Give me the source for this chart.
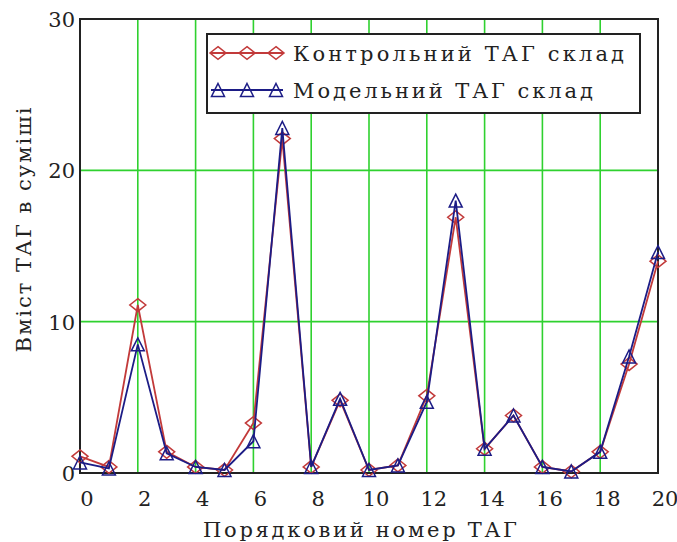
<!DOCTYPE html>
<html>
<head>
<meta charset="utf-8">
<script src="https://cdn.jsdelivr.net/npm/d3@7"></script>
</head>
<body style="margin:0">
<div id="chart"></div>
<script>
const width = 677;
const height = 542;
const serifFont = "'DejaVu Serif'";

// Порядковий номер ТАГ
const tagIndex = [0, 1, 2, 3, 4, 5, 6, 7, 8, 9, 10, 11, 12, 13, 14, 15, 16, 17, 18, 19, 20];
const controlValues = [1.1, 0.4, 11.1, 1.4, 0.4, 0.2, 3.3, 22.1, 0.4, 4.8, 0.2, 0.5, 5.1, 16.9, 1.6, 3.8, 0.4, 0.1, 1.4, 7.2, 14.0];
const modelValues = [0.7, 0.3, 8.5, 1.3, 0.4, 0.2, 2.1, 22.8, 0.4, 4.9, 0.2, 0.5, 4.7, 18.0, 1.6, 3.8, 0.4, 0.1, 1.4, 7.7, 14.6];
const xTicks = [0, 2, 4, 6, 8, 10, 12, 14, 16, 18, 20];
const yTicks = [0, 10, 20, 30];
const seriesNames = ["Контрольний ТАГ склад", "Модельний ТАГ склад"];

const margin = { top: 19, right: 19, bottom: 69, left: 80 };
const red = "#c23a3a";
const blue = "#1c1c86";

const svg = d3
  .select("#chart")
  .append("svg")
  .attr("width", width)
  .attr("height", height);

const x = d3
  .scaleLinear()
  .domain([0, 20])
  .range([margin.left, width - margin.right]);

const y = d3
  .scaleLinear()
  .domain([0, 30])
  .range([height - margin.bottom, margin.top]);

// green grid
svg
  .append("g")
  .selectAll("line")
  .data(xTicks.filter((t) => t > 0 && t < 20))
  .enter()
  .append("line")
  .attr("x1", (d) => x(d))
  .attr("x2", (d) => x(d))
  .attr("y1", y(0))
  .attr("y2", y(30))
  .attr("stroke", "#2fd12f")
  .attr("stroke-width", 1.6);

svg
  .append("g")
  .selectAll("line")
  .data(yTicks.filter((t) => t > 0 && t < 30))
  .enter()
  .append("line")
  .attr("x1", x(0))
  .attr("x2", x(20))
  .attr("y1", (d) => y(d))
  .attr("y2", (d) => y(d))
  .attr("stroke", "#2fd12f")
  .attr("stroke-width", 1.6);

// tick labels
svg
  .append("g")
  .selectAll("text")
  .data(xTicks)
  .enter()
  .append("text")
  .attr("x", (d) => x(d) + 7)
  .attr("y", y(0) + 33)
  .attr("text-anchor", "middle")
  .attr("font-family", serifFont)
  .attr("font-size", 21)
  .attr("fill", "#222")
  .text((d) => d);

svg
  .append("g")
  .selectAll("text")
  .data(yTicks)
  .enter()
  .append("text")
  .attr("x", x(0) - 5)
  .attr("y", (d) => y(d) + 8)
  .attr("text-anchor", "end")
  .attr("font-family", serifFont)
  .attr("font-size", 21)
  .attr("fill", "#222")
  .text((d) => d);

// frame
svg
  .append("rect")
  .attr("x", x(0))
  .attr("y", y(30))
  .attr("width", x(20) - x(0))
  .attr("height", y(0) - y(30))
  .attr("fill", "none")
  .attr("stroke", "#222")
  .attr("stroke-width", 2);

const line = d3
  .line()
  .x((d, i) => x(tagIndex[i]))
  .y((d) => y(d));

const diamond = (s) => `M0,${-s * 0.4}L${s / 2},0L0,${s * 0.4}L${-s / 2},0Z`;
const triangle = (s) => `M0,${-s / 2}L${s / 2},${s / 2}L${-s / 2},${s / 2}Z`;

const drawSeries = (values, color, shape) => {
  const g = svg.append("g");
  g.append("path")
    .datum(values)
    .attr("d", line)
    .attr("fill", "none")
    .attr("stroke", color)
    .attr("stroke-width", 1.8);
  g.selectAll("path.marker")
    .data(values)
    .enter()
    .append("path")
    .attr("class", "marker")
    .attr("transform", (d, i) => `translate(${x(tagIndex[i])},${y(d)})`)
    .attr("d", shape)
    .attr("fill", "none")
    .attr("stroke", color)
    .attr("stroke-width", 1.5);
};

drawSeries(controlValues, red, diamond(16));
drawSeries(modelValues, blue, triangle(13));

// legend
const legend = svg.append("g").attr("transform", "translate(207,34)");
legend
  .append("rect")
  .attr("width", 433)
  .attr("height", 79)
  .attr("fill", "#fff")
  .attr("stroke", "#222")
  .attr("stroke-width", 2);

const legendRows = [
  { name: seriesNames[0], color: red, shape: diamond(16), y: 19, len: 331 },
  { name: seriesNames[1], color: blue, shape: triangle(13), y: 56, len: 300 },
];
const symbolX = [11, 40, 69];

legendRows.forEach((row) => {
  legend
    .append("line")
    .attr("x1", 4)
    .attr("x2", 76)
    .attr("y1", row.y)
    .attr("y2", row.y)
    .attr("stroke", row.color)
    .attr("stroke-width", 1.8);
  legend
    .selectAll(null)
    .data(symbolX)
    .enter()
    .append("path")
    .attr("transform", (d) => `translate(${d},${row.y})`)
    .attr("d", row.shape)
    .attr("fill", "none")
    .attr("stroke", row.color)
    .attr("stroke-width", 1.5);
  legend
    .append("text")
    .attr("x", 86)
    .attr("y", row.y + 8)
    .attr("textLength", row.len)
    .attr("lengthAdjust", "spacing")
    .attr("font-family", serifFont)
    .attr("font-size", 21)
    .attr("fill", "#222")
    .text(row.name);
});

// axis titles
svg
  .append("text")
  .attr("x", 360)
  .attr("y", 537)
  .attr("text-anchor", "middle")
  .attr("textLength", 314)
  .attr("lengthAdjust", "spacing")
  .attr("font-family", serifFont)
  .attr("font-size", 21)
  .attr("fill", "#222")
  .text("Порядковий номер ТАГ");

svg
  .append("text")
  .attr("transform", "translate(31,230) rotate(-90)")
  .attr("text-anchor", "middle")
  .attr("textLength", 245)
  .attr("lengthAdjust", "spacing")
  .attr("font-family", serifFont)
  .attr("font-size", 21)
  .attr("fill", "#222")
  .text("Вміст ТАГ в суміші");
</script>
</body>
</html>
